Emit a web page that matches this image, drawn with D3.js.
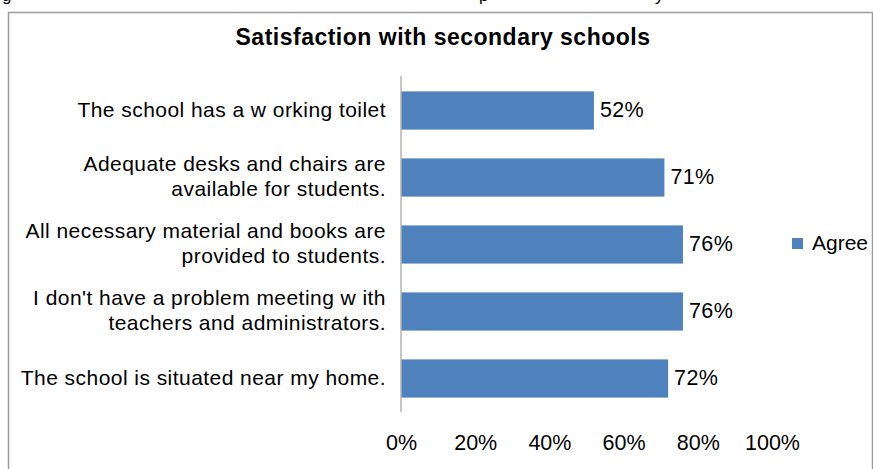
<!DOCTYPE html>
<html>
<head>
<meta charset="utf-8">
<script src="https://cdn.jsdelivr.net/npm/d3@7"></script>
<style>
  html, body { margin: 0; padding: 0; background: #fff; }
  svg { display: block; font-family: "Liberation Sans", Arial, sans-serif; }
</style>
</head>
<body>
<svg id="chart" width="873" height="469"></svg>
<script>
// Survey statements (each entry is a list of wrapped lines)
const categories = [
  ["The school has a w orking toilet"],
  ["Adequate desks and chairs are", "available for students."],
  ["All necessary material and books are", "provided to students."],
  ["I don't have a problem meeting w ith", "teachers and administrators."],
  ["The school is situated near my home."]
];
// Share of respondents who agree (%)
const agreeValues = [52, 71, 76, 76, 72];
const tickValues = [0, 20, 40, 60, 80, 100];
const seriesName = "Agree";
const chartTitle = "Satisfaction with secondary schools";

const svg = d3.select("#chart");
const barColor = "#4F81BD";

// Frame around the chart area
svg.append("path")
  .attr("d", "M8.5,469 V12.5 H872.5 V469")
  .attr("fill", "none")
  .attr("stroke", "#9a9a9a")
  .attr("stroke-width", 1.5);

// Descenders of the caption line above the frame
const captionFrag = svg.append("g").attr("font-size", 17).attr("fill", "#000");
[["g", 2], ["p", 479], ["y", 655]].forEach(([ch, x]) => {
  captionFrag.append("text").attr("x", x).attr("y", 1).text(ch);
});

// Title
svg.append("text")
  .attr("x", 443).attr("y", 45)
  .attr("text-anchor", "middle")
  .attr("font-weight", "bold")
  .attr("font-size", 23)
  .attr("letter-spacing", 0.5)
  .text(chartTitle);

const x = d3.scaleLinear().domain([0, 100]).range([401, 772]);
const y = d3.scaleBand()
  .domain(d3.range(categories.length))
  .range([77, 412])
  .paddingInner(0.43)
  .paddingOuter(0.215);

// Bars
svg.append("g").selectAll("rect")
  .data(agreeValues)
  .join("rect")
  .attr("x", x(0))
  .attr("y", (d, i) => y(i))
  .attr("width", d => x(d) - x(0))
  .attr("height", y.bandwidth())
  .attr("fill", barColor);

// Value labels
svg.append("g").selectAll("text")
  .data(agreeValues)
  .join("text")
  .attr("x", d => x(d) + 6)
  .attr("y", (d, i) => y(i) + y.bandwidth() / 2 + 6)
  .attr("font-size", 21.5)
  .attr("letter-spacing", 0.4)
  .text(d => d + "%");

// Category axis line
svg.append("line")
  .attr("x1", 401).attr("x2", 401)
  .attr("y1", 76).attr("y2", 412)
  .attr("stroke", "#b3b3b3")
  .attr("stroke-width", 1.5);

// Category labels
const lineH = 24.5;
const catG = svg.append("g")
  .attr("font-size", 21)
  .attr("letter-spacing", 0.45)
  .attr("text-anchor", "end");
categories.forEach((lines, i) => {
  const cy = y(i) + y.bandwidth() / 2;
  const t = catG.append("text").attr("y", cy + 6 - (lines.length - 1) * lineH / 2);
  lines.forEach((ln, j) => {
    t.append("tspan")
      .attr("x", 386)
      .attr("dy", j === 0 ? 0 : lineH)
      .text(ln);
  });
});

// Value axis tick labels
const xAxis = d3.axisBottom(x)
  .tickValues(tickValues)
  .tickFormat(d => d + "%")
  .tickSize(0)
  .tickPadding(0);
const axG = svg.append("g").attr("transform", "translate(0,435)").call(xAxis);
axG.select(".domain").remove();
axG.selectAll("text")
  .attr("font-family", "Liberation Sans, Arial, sans-serif")
  .attr("font-size", 21.5)
  .attr("dy", "0.72em")
  .attr("fill", "#000");

// Legend
const leg = svg.append("g").attr("transform", "translate(792,238)");
leg.append("rect").attr("width", 11).attr("height", 11).attr("fill", barColor);
leg.append("text").attr("x", 20).attr("y", 11.5).attr("font-size", 21).text(seriesName);
</script>
</body>
</html>
